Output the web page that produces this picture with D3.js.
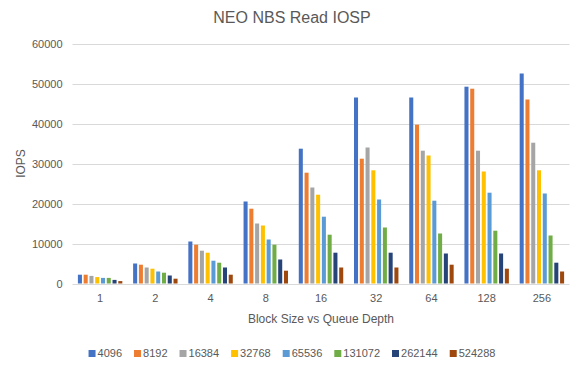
<!DOCTYPE html>
<html>
<head>
<meta charset="utf-8">
<script src="https://cdn.jsdelivr.net/npm/d3@7"></script>
<style>
  body { margin: 0; background: #fff; }
  text { font-family: "Liberation Sans", Arial, sans-serif; fill: #595959; }
</style>
</head>
<body>
<svg id="chart" width="585" height="372"></svg>
<script>
// categories (queue depth) and series (block size)
var depths = ["1", "2", "4", "8", "16", "32", "64", "128", "256"];
var blockSizes = ["4096", "8192", "16384", "32768", "65536", "131072", "262144", "524288"];
var colors = ["#4472C4", "#ED7D31", "#A5A5A5", "#FFC000", "#5B9BD5", "#70AD47", "#264478", "#9E480E"];

// one array per block size, values per queue depth
var s4096   = [2200, 5000, 10500, 20500, 33700, 46500, 46500, 49200, 52500];
var s8192   = [2200, 4700, 9700, 18700, 27700, 31200, 39700, 48700, 46000];
var s16384  = [1900, 4000, 8200, 15000, 24000, 34000, 33200, 33200, 35200];
var s32768  = [1600, 3700, 7700, 14500, 22200, 28300, 32000, 28000, 28300];
var s65536  = [1400, 3000, 5700, 11000, 16700, 21000, 20700, 22700, 22500];
var s131072 = [1400, 2700, 5200, 9700, 12200, 14000, 12500, 13200, 12000];
var s262144 = [900, 2000, 4000, 6000, 7700, 7700, 7500, 7500, 5200];
var s524288 = [600, 1200, 2200, 3200, 4000, 4000, 4700, 3700, 3000];
var yTicks = [0, 10000, 20000, 30000, 40000, 50000, 60000];

var series = [s4096, s8192, s16384, s32768, s65536, s131072, s262144, s524288];

var svg = d3.select("#chart");
var margin = {left: 72.5, right: 15.5, top: 43.5, bottom: 88.5};
var width = 585 - margin.left - margin.right,
    height = 372 - margin.top - margin.bottom;

var x0 = d3.scaleBand().domain(depths).range([margin.left, margin.left + width]).padding(0);
var groupW = x0.bandwidth() * 0.836;
var x1 = d3.scaleBand().domain(blockSizes)
    .range([(x0.bandwidth() - groupW) / 2, (x0.bandwidth() + groupW) / 2])
    .paddingInner(0.3).paddingOuter(0.15);
var y = d3.scaleLinear().domain([0, 60000]).range([margin.top + height, margin.top]);

// title
svg.append("text")
    .attr("x", 292).attr("y", 23)
    .attr("text-anchor", "middle")
    .style("font-size", "16px")
    .text("NEO NBS Read IOSP");

// gridlines
svg.append("g")
    .selectAll("line")
    .data(yTicks)
    .enter().append("line")
    .attr("x1", margin.left).attr("x2", margin.left + width)
    .attr("y1", function(d) { return Math.round(y(d)) + 0.5; })
    .attr("y2", function(d) { return Math.round(y(d)) + 0.5; })
    .attr("stroke", "#d9d9d9").attr("stroke-width", 1);

// y axis labels
var yAxis = d3.axisLeft(y).tickValues(yTicks).tickSize(0).tickPadding(10).tickFormat(d3.format("d"));
var gy = svg.append("g").attr("transform", "translate(" + margin.left + ",0)").call(yAxis);
gy.select(".domain").remove();
gy.selectAll("text").style("font-size", "11px").style("font-family", null).attr("fill", "#595959");

// x axis labels
var xAxis = d3.axisBottom(x0).tickSize(0).tickPadding(11);
var gx = svg.append("g").attr("transform", "translate(0," + (margin.top + height) + ")").call(xAxis);
gx.select(".domain").remove();
gx.selectAll("text").style("font-size", "11px").style("font-family", null).attr("fill", "#595959");

// bars
var groups = svg.append("g")
    .selectAll("g")
    .data(depths)
    .enter().append("g")
    .attr("transform", function(d) { return "translate(" + x0(d) + ",0)"; });

groups.selectAll("rect")
    .data(function(d, i) { return blockSizes.map(function(b, j) { return {key: b, idx: j, value: series[j][i]}; }); })
    .enter().append("rect")
    .attr("x", function(d) { return x1(d.key); })
    .attr("width", x1.bandwidth())
    .attr("y", function(d) { return y(d.value); })
    .attr("height", function(d) { return y(0) - y(d.value); })
    .attr("fill", function(d) { return colors[d.idx]; });

// axis titles
svg.append("text")
    .attr("x", margin.left + width / 2).attr("y", 323)
    .attr("text-anchor", "middle")
    .style("font-size", "12px")
    .text("Block Size vs Queue Depth");

svg.append("text")
    .attr("transform", "translate(25," + (margin.top + height / 2) + ") rotate(-90)")
    .attr("text-anchor", "middle")
    .style("font-size", "12px")
    .text("IOPS");

// legend
var legend = svg.append("g");
var items = legend.selectAll("g")
    .data(blockSizes)
    .enter().append("g");
items.append("rect")
    .attr("width", 7).attr("height", 7)
    .attr("y", -7)
    .attr("fill", function(d, i) { return colors[i]; });
items.append("text")
    .attr("x", 9).attr("y", 0)
    .style("font-size", "11px")
    .text(function(d) { return d; });

var pos = 0;
items.each(function() {
  d3.select(this).attr("transform", "translate(" + pos + ",0)");
  pos += 9 + this.querySelector("text").getComputedTextLength() + 12;
});
var total = pos - 12;
legend.attr("transform", "translate(" + (292 - total / 2) + ",357)");
</script>
</body>
</html>
